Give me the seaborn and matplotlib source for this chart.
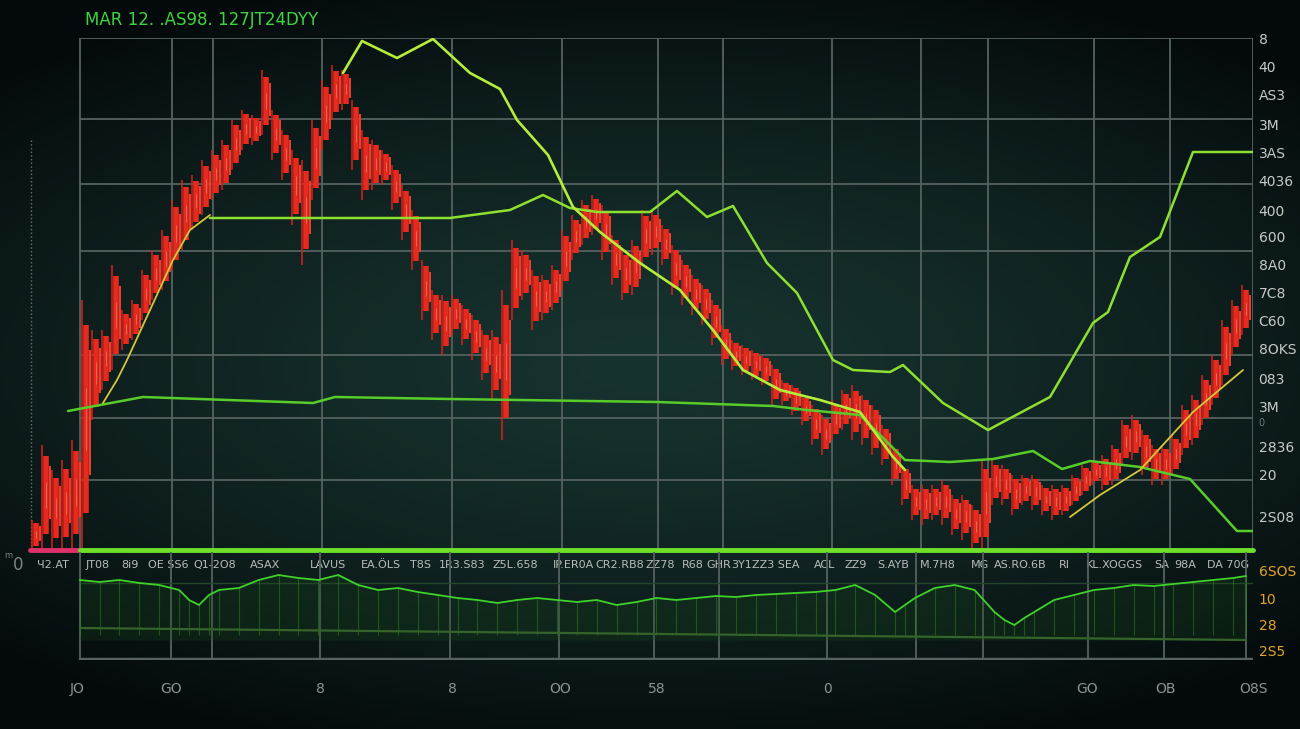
import numpy as np
import matplotlib
matplotlib.use("Agg")
import matplotlib.pyplot as plt
import seaborn as sns

# price candles, one every day (high / low of each bar)
days = list(range(122))
highs = [6, 21, 16, 18, 22, 50, 44, 44, 57, 48, 50, 56, 60, 64, 70, 74, 75, 78, 80, 82,
         86, 88, 87, 96, 88, 84, 80, 78, 86, 94, 97, 96, 90, 84, 82, 80, 77, 73, 68, 58,
         52, 51, 51, 49, 47, 44, 44, 52, 62, 60, 56, 55, 57, 64, 67, 70, 71, 69, 63, 60,
         62, 68, 68, 65, 61, 58, 55, 53, 50, 45, 42, 41, 40, 39, 37, 34, 33, 31, 29, 27,
         30, 32, 33, 31, 29, 25, 21, 17, 13, 13, 13, 14, 11, 11, 9, 18, 18, 17, 15, 15,
         15, 13, 13, 13, 15, 17, 18, 19, 21, 26, 27, 24, 21, 21, 23, 29, 31, 35, 39, 46,
         50, 53]
lows = [0, 0, 0, 0, 0, 0, 26, 32, 36, 40, 42, 46, 50, 52, 56, 60, 64, 67, 70, 72,
        76, 80, 81, 83, 78, 74, 65, 57, 70, 80, 86, 88, 76, 70, 72, 73, 68, 62, 56, 46,
        42, 39, 43, 41, 38, 34, 30, 22, 46, 50, 44, 46, 48, 52, 58, 61, 63, 58, 53, 50,
        51, 57, 59, 57, 51, 49, 47, 45, 41, 37, 36, 35, 34, 33, 29, 29, 27, 25, 21, 19,
        22, 24, 22, 21, 19, 17, 13, 9, 6, 5, 6, 5, 3, 2, 0, 0, 9, 9, 7, 9,
        8, 7, 6, 7, 9, 11, 13, 12, 13, 17, 18, 15, 13, 13, 15, 19, 21, 25, 29, 33,
        39, 43]

# moving-average style lines
line_a_x = [30.8, 32.7, 36.2, 39.8, 43.5, 46.5, 48.2, 51.3, 53.8, 56.5, 60.5, 64.5, 67.8,
            70.8, 74.5, 78.5, 82.5, 85.8, 87.0]
line_a_y = [95.4, 101.8, 98.4, 102.2, 95.4, 92.2, 86.0, 79.0, 68.6, 63.6, 57.4, 52.0, 44.0,
            36.0, 32.0, 30.0, 27.6, 18.6, 16.0]
line_b_x = [17.5, 41.5, 47.5, 50.8, 53.5, 56.2, 61.5, 64.2, 67.2, 69.8, 73.2, 76.2, 79.8,
            81.8, 85.5, 86.8, 90.8, 95.3, 101.5, 105.8, 107.3, 109.5, 112.5, 115.8, 121.8]
line_b_y = [66.4, 66.4, 68.0, 71.0, 68.4, 67.6, 67.6, 71.8, 66.6, 68.8, 57.4, 51.4, 38.0,
            36.0, 35.6, 37.0, 29.4, 24.0, 30.6, 45.4, 47.6, 58.6, 62.6, 79.6, 79.6]
line_c_x = [3.3, 10.8, 27.8, 30.0, 41.5, 62.2, 73.8, 77.2, 82.5, 87.0, 91.5, 95.8, 99.8,
            102.7, 105.5, 110.5, 115.5, 120.2, 121.8]
line_c_y = [27.8, 30.6, 29.4, 30.6, 30.2, 29.6, 28.8, 28.0, 27.0, 18.0, 17.6, 18.2, 19.8,
            16.2, 17.8, 16.6, 14.2, 3.8, 3.8]
line_d1_x = [6.8, 8.2, 9.2, 11.5, 13.8, 15.5, 17.5]
line_d1_y = [29.4, 34.0, 38.0, 48.0, 58.0, 64.0, 67.0]
line_d2_x = [103.5, 106.5, 110.5, 115.8, 120.8]
line_d2_y = [6.6, 11.0, 16.0, 27.6, 36.0]

# lower indicator panel
ind_x = [4.5, 6.5, 8.5, 10.5, 12.5, 14.5, 15.5, 16.5, 17.5, 18.5, 20.5, 22.5, 24.5, 26.5,
         28.5, 30.5, 32.5, 34.5, 36.5, 38.5, 40.5, 42.5, 44.5, 46.5, 48.5, 50.5, 52.5,
         54.5, 56.5, 58.5, 60.5, 62.5, 64.5, 66.5, 68.5, 70.5, 72.5, 74.5, 76.5, 78.5,
         80.5, 82.5, 84.5, 86.5, 87.5, 88.5, 90.5, 92.5, 94.5, 96.5, 97.5, 98.5, 99.5,
         100.5, 102.5, 104.5, 106.5, 108.5, 110.5, 112.5, 114.5, 116.5, 118.5, 120.5, 121.8]
ind_y = [80, 78, 80, 77, 75, 70, 60, 55, 65, 70, 72, 80, 85, 82, 80, 85, 75, 70, 72, 68,
         65, 62, 60, 57, 60, 62, 60, 58, 60, 55, 58, 62, 60, 62, 64, 63, 65, 66, 67, 68,
         70, 75, 65, 48, 55, 62, 72, 75, 70, 48, 40, 35, 42, 48, 60, 65, 70, 72, 75, 74,
         76, 78, 80, 82, 84]
trend_x = [4.5, 121.8]
trend_y = [32, 20]

# labels
title = "MAR 12. .AS98. 127JT24DYY"
right_ticks = [102.4, 96.8, 91.0, 85.2, 79.6, 73.8, 68.0, 62.6, 57.2, 51.6, 46.0, 40.2,
               34.4, 28.8, 25.6, 20.6, 15.0, 6.6]
right_labels = ["8", "40", "AS3", "3M", "3AS", "4036", "400", "600", "8A0", "7C8", "C60",
                "8OKS", "083", "3M", "0", "2836", "20", "2S08"]
low_ticks = [89, 62, 35, 9]
low_labels = ["6SOS", "10", "28", "2S5"]
mid_ticks = [1.8, 6.3, 9.5, 13.3, 18.0, 23.0, 29.3, 34.6, 38.5, 42.7, 48.0, 53.8, 58.5,
             62.5, 65.8, 68.4, 70.7, 74.1, 79.0, 82.1, 85.8, 90.3, 94.5, 98.5, 102.9,
             107.9, 112.7, 115.0, 119.3]
mid_labels = ["Ч2.AT", "JT08", "8i9", "OE SS6", "Q1-2O8", "ASAX", "LAVUS", "EA.ÖLS", "T8S",
              "1R3.S83", "Z5L.658", "IP.ER0A", "CR2.RB8", "ZZ78", "R68", "GHR", "3Y1",
              "ZZ3 SEA", "ACL", "ZZ9", "S.AYB", "M.7H8", "MG", "AS.RO.6B", "RI",
              "KL.XOGGS", "SA", "98A", "DA 70G"]
bottom_ticks = [4.2, 13.7, 28.7, 42.0, 52.8, 62.5, 79.7, 105.8, 113.7, 122.5]
bottom_labels = ["JO", "GO", "8", "8", "OO", "58", "0", "GO", "OB", "O8S"]

grid_x = [4.5, 13.7, 17.8, 28.7, 41.7, 52.7, 62.3, 68.8, 79.7, 88.6, 95.3, 105.9, 113.5, 121.8]
grid_y = [102.4, 86.2, 73.2, 59.8, 39.0, 26.4, 14.0]

sns.set_style("dark")
plt.rcParams['font.family'] = ['DejaVu Sans']

fig = plt.figure(figsize=(13, 7.29), dpi=100)
fig.patch.set_facecolor("#081011")

# background vignette
bg = fig.add_axes([0, 0, 1, 1], zorder=-5)
gx, gy = np.meshgrid(np.linspace(-1, 1, 260), np.linspace(-1, 1, 146))
r = np.clip(np.sqrt((gx * 0.85) ** 2 + (gy * 1.1) ** 2), 0, 1.4)
c0 = np.array([0x17, 0x33, 0x2f]) / 255
c1 = np.array([0x04, 0x09, 0x0b]) / 255
t = np.clip(r / 1.25, 0, 1)[..., None] ** 1.4
bg.imshow(c0 * (1 - t) + c1 * t, aspect="auto", extent=[0, 1, 0, 1])
bg.axis("off")

xlo, xhi = -0.5, 121.8
ax = fig.add_axes([30 / 1300, 1 - 550 / 729, 1223 / 1300, 512 / 729])
ax2 = fig.add_axes([30 / 1300, 1 - 660 / 729, 1223 / 1300, 108 / 729])
for a in (ax, ax2):
    a.set_facecolor("none")
    a.set_xlim(xlo, xhi)
    for s in a.spines.values():
        s.set_visible(False)
    a.grid(False)
ax.set_ylim(0, 102.4)
ax2.set_ylim(0, 108)

gcol = "#55625f"
xfrac = (4.5 - xlo) / (xhi - xlo)
for gxv in grid_x:
    ax.axvline(gxv, color=gcol, lw=1.3, zorder=1)
    ax2.axvline(gxv, color=gcol, lw=1.3, zorder=1)
for gyv in grid_y:
    ax.axhline(gyv, xmin=xfrac, color=gcol, lw=1.3, zorder=1)
ax2.axhline(0.6, xmin=xfrac, color=gcol, lw=2.5, zorder=1)
ax2.axhline(77, xmin=xfrac, color="#24472a", lw=1.0, zorder=1)
ax.axvline(xlo + 0.05, ymin=0, ymax=0.8, color="#6a7472", lw=1, ls=":", zorder=1)

# candles
d = np.array(days, dtype=float)
hi = np.array(highs, dtype=float)
lo = np.array(lows, dtype=float)
rng = hi - lo
ax.vlines(d - 0.3, lo, hi, color="#d8221a", lw=1.1, zorder=3)
ax.vlines(d + 0.1, lo + rng * 0.15, hi - rng * 0.1, color="#e82a1e", lw=4.0, zorder=3)
ax.vlines(d + 0.45, lo + rng * 0.3, hi - rng * 0.2, color="#f0402e", lw=1.4, zorder=3)
ax.vlines(d + 0.05, lo + rng * 0.4, hi - rng * 0.35, color="#f7a090", lw=0.7, alpha=0.5, zorder=3)

sns.lineplot(x=line_c_x, y=line_c_y, ax=ax, color="#58cc2a", lw=1.8, zorder=4)
sns.lineplot(x=line_b_x, y=line_b_y, ax=ax, color="#8ee030", lw=1.8, zorder=4)
sns.lineplot(x=line_a_x, y=line_a_y, ax=ax, color="#b6ec3a", lw=1.9, zorder=4)
sns.lineplot(x=line_d1_x, y=line_d1_y, ax=ax, color="#d6c83a", lw=1.3, zorder=4)
sns.lineplot(x=line_d2_x, y=line_d2_y, ax=ax, color="#d6c83a", lw=1.3, zorder=4)

# base lines
ax.axhline(0, xmin=0, xmax=xfrac, color="#e0306a", lw=3.5, zorder=5, clip_on=False)
ax.axhline(0, xmin=xfrac, xmax=1, color="#6ee02a", lw=3.5, zorder=5, clip_on=False)

# lower indicator
ax2.fill_between(ind_x, 20, ind_y, color="#1a4a1a", alpha=0.25, lw=0, zorder=2)
ax2.vlines(ind_x, 25, ind_y, color="#2f8a24", lw=0.8, alpha=0.5, zorder=2)
sns.lineplot(x=ind_x, y=ind_y, ax=ax2, color="#3ed22a", lw=1.3, zorder=3)
sns.lineplot(x=trend_x, y=trend_y, ax=ax2, color="#35642a", lw=1.6, zorder=3)

# ticks
ax.yaxis.tick_right()
ax.set_yticks(right_ticks)
ax.set_yticklabels(right_labels, color="#c6cac9", fontsize=10)
ax.get_yticklabels()[14].set_fontsize(7)
ax.get_yticklabels()[14].set_color("#6e7676")
ax.tick_params(axis="y", length=0, pad=4)
ax.set_xticks(mid_ticks)
ax.set_xticklabels(mid_labels, color="#b8bcbc", fontsize=8)
ax.tick_params(axis="x", length=0, pad=7)

ax2.yaxis.tick_right()
ax2.set_yticks(low_ticks)
ax2.set_yticklabels(low_labels, color="#e0a428", fontsize=10)
ax2.tick_params(axis="y", length=0, pad=4)
ax2.set_xticks(bottom_ticks)
ax2.set_xticklabels(bottom_labels, color="#8c9494", fontsize=10)
ax2.tick_params(axis="x", length=0, pad=16)
ax.set_xlabel("")
ax.set_ylabel("")
ax2.set_xlabel("")
ax2.set_ylabel("")

fig.text(85 / 1300, 1 - 20 / 729, title, color="#3fd43f", fontsize=12, va="center")
fig.text(18 / 1300, 1 - 565 / 729, "0", color="#7c8484", fontsize=12, va="center", ha="center")
fig.text(8 / 1300, 1 - 556 / 729, "m", color="#7c8484", fontsize=6, va="center", ha="center")

fig.savefig("out.png", dpi=100, facecolor=fig.get_facecolor())
